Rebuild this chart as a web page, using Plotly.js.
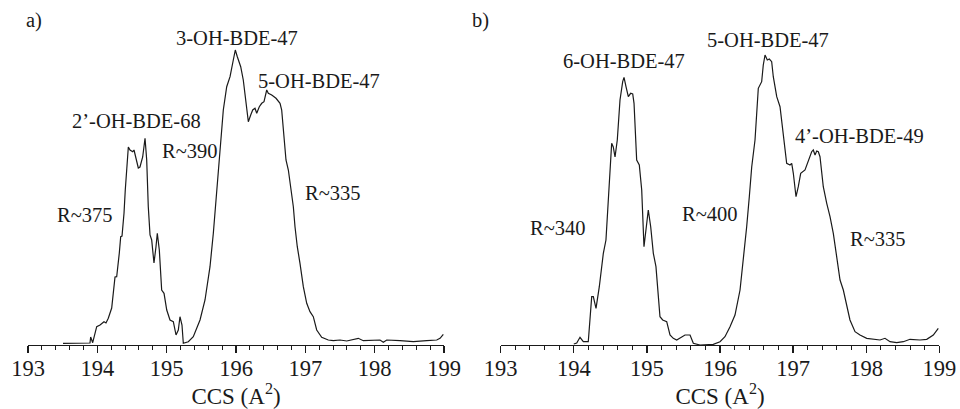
<!DOCTYPE html>
<html>
<head>
<meta charset="utf-8">
<script src="https://cdn.plot.ly/plotly-3.0.1.min.js"></script>
<style>html,body{margin:0;padding:0;background:#fff;}#chart{width:960px;height:409px;}</style>
</head>
<body>
<div id="chart"></div>
<script>
// Panel a) CCS (Å^2) vs intensity (arbitrary units)
const ccsA = [193.505,193.865,193.894,193.904,193.933,193.991,194.039,194.096,194.125,194.158,194.207,194.255,194.279,194.317,194.337,194.356,194.385,194.403,194.428,194.447,194.471,194.510,194.529,194.568,194.591,194.615,194.654,194.688,194.712,194.735,194.760,194.784,194.817,194.846,194.865,194.894,194.928,194.962,195.001,195.048,195.096,195.135,195.168,195.192,195.221,195.240,195.312,195.384,195.481,195.553,195.625,195.673,195.722,195.769,195.817,195.866,195.914,195.961,195.990,196.019,196.068,196.105,196.144,196.178,196.212,196.241,196.274,196.299,196.336,196.371,196.404,196.443,196.466,196.515,196.577,196.635,196.659,196.692,196.721,196.755,196.789,196.827,196.851,196.884,196.923,196.971,197.020,197.067,197.115,197.164,197.236,197.331,197.404,197.500,197.597,197.764,197.836,198.077,198.125,198.174,198.366,198.557,198.751,198.895,198.943,198.990];
const intA = [1.7,2,2,8,2.3,18.3,20,23.3,22,26.7,37,68,68.3,92,108.3,109,132,155,185,198,195,193.3,195,182,177,178,188,206.7,185,138.3,110,105,82,98.3,111.7,95,55,51.7,35,25,23.3,10,15,28.3,20,1.7,3.3,8.3,25,45,78.3,111.7,151.7,195,235,258.3,268.3,285,295,288.3,278.3,265,241.7,223.3,230,235,236.7,231.7,238.3,241.7,243.3,255,251.7,250,246.7,241.7,235,205,185,175,158.3,138.3,118.3,98.3,81.7,58.3,41.7,33.3,28.3,15,7.7,5,4.3,5,4,6.7,4.3,5,2.7,5,4.3,3.3,4.3,5,6.7,10.7];

// Panel b)
const ccsB = [194.000,194.040,194.085,194.130,194.198,194.245,194.267,194.304,194.349,194.404,194.440,194.486,194.518,194.540,194.564,194.595,194.632,194.669,194.687,194.714,194.746,194.778,194.806,194.824,194.860,194.896,194.929,194.960,194.988,195.019,195.052,195.088,195.124,195.156,195.179,195.216,195.271,195.316,195.361,195.408,195.476,195.521,195.590,195.635,195.726,195.908,196.000,196.068,196.137,196.205,196.274,196.319,196.365,196.401,196.434,196.479,196.524,196.570,196.592,196.616,196.647,196.675,196.707,196.729,196.776,196.821,196.866,196.912,196.958,196.981,197.003,197.040,197.071,197.104,197.163,197.208,197.254,197.276,197.300,197.323,197.345,197.368,197.413,197.460,197.505,197.550,197.596,197.642,197.687,197.733,197.778,197.847,197.915,198.007,198.144,198.189,198.257,198.326,198.417,198.508,198.599,198.736,198.828,198.918,198.986];
const intB = [1,2,7.7,3.3,3.3,48.3,48.3,36.7,58.3,91.7,105,158.3,201.7,198,188,205,245,263.3,267.7,258.3,248.3,251.7,251,241.7,185,180,155,98.3,118.3,135,118.3,91.7,78.3,48.3,28.3,25,23.3,10,6.7,5,8.3,10,10,1.7,0,0.7,3.3,8.3,18.3,30,55,85,118.3,148.3,178.3,205,256.7,263.3,280,290,285,286,283.3,268.3,248.3,238.3,211.7,181.7,180,181.7,171.7,148.3,158.3,171.7,175,185,193.3,195,190,194,193.3,188.3,158.3,141.7,128.3,111.7,88.3,65,55,38.3,25,13.3,10,6.7,5.7,5,6.7,3.3,2.3,3.3,5.7,5,5.7,10,16.7];

const tickVals = [193,194,195,196,197,198,199];
const tickText = ["193","194","195","196","197","198","199"];
const axisTitle = "CCS (A<sup>2</sup>)";
const panelLabels = ["a)", "b)"];
const labelsA = ["3-OH-BDE-47","5-OH-BDE-47","2’-OH-BDE-68","R~390","R~375","R~335"];
const labelsB = ["5-OH-BDE-47","6-OH-BDE-47","4’-OH-BDE-49","R~340","R~400","R~335"];

const FONT = '"Liberation Serif", "Times New Roman", serif';
const INK = '#1a1a1a';

const traces = [
  {x: ccsA, y: intA, xaxis:'x', yaxis:'y', mode:'lines', line:{color:INK, width:1.2}, hoverinfo:'skip'},
  {x: ccsB, y: intB, xaxis:'x2', yaxis:'y2', mode:'lines', line:{color:INK, width:1.2}, hoverinfo:'skip'}
];

function xAxis(domain, anchor) {
  return {
    domain: domain, anchor: anchor, range:[193,199], fixedrange:true,
    showline:true, linecolor:INK, linewidth:1.3, mirror:false,
    showgrid:false, zeroline:false,
    ticks:'outside', ticklen:7, tickwidth:1.2, tickcolor:INK,
    ticklabelstandoff:-4,
    tickvals: tickVals, ticktext: tickText,
    tickfont:{family:FONT, size:22.5, color:INK},
    minor:{dtick:0.2, ticks:'outside', ticklen:4, tickwidth:1, tickcolor:INK, showgrid:false},
    title:{text: axisTitle, font:{family:FONT, size:23, color:INK}, standoff:0},
    automargin:false
  };
}
function yAxis(anchor) {
  return {anchor: anchor, domain:[0,1], range:[0,345], visible:false, fixedrange:true, showgrid:false, zeroline:false};
}

// annotation positions (paper coords), same order as the label arrays
const posA = [[0.2469,0.890],[0.3323,0.765],[0.1427,0.649],[0.1979,0.562],[0.0885,0.377],[0.3469,0.441]];
const posB = [[0.8005,0.884],[0.6495,0.823],[0.8958,0.606],[0.5813,0.339],[0.7396,0.380],[0.9146,0.307]];
const posPanel = [[0.0354,0.942],[0.501,0.942]];

const annotations = [];
function addAnn(text, p) {
  annotations.push({text:text, xref:'paper', yref:'paper', x:p[0], y:p[1], xanchor:'center', yanchor:'middle',
    showarrow:false, font:{family:FONT, size:20.5, color:INK}});
}
labelsA.forEach((t,i)=>addAnn(t,posA[i]));
labelsB.forEach((t,i)=>addAnn(t,posB[i]));
panelLabels.forEach((t,i)=>addAnn(t,posPanel[i]));

const layout = {
  width:960, height:409,
  margin:{l:0, r:0, t:0, b:64},
  paper_bgcolor:'#fff', plot_bgcolor:'rgba(0,0,0,0)',
  showlegend:false,
  xaxis: xAxis([28/960, 444/960], 'y'),
  yaxis: yAxis('x'),
  xaxis2: xAxis([500.7/960, 939.3/960], 'y2'),
  yaxis2: yAxis('x2'),
  annotations: annotations
};

Plotly.newPlot('chart', traces, layout, {staticPlot:true, displayModeBar:false});
</script>
</body>
</html>
